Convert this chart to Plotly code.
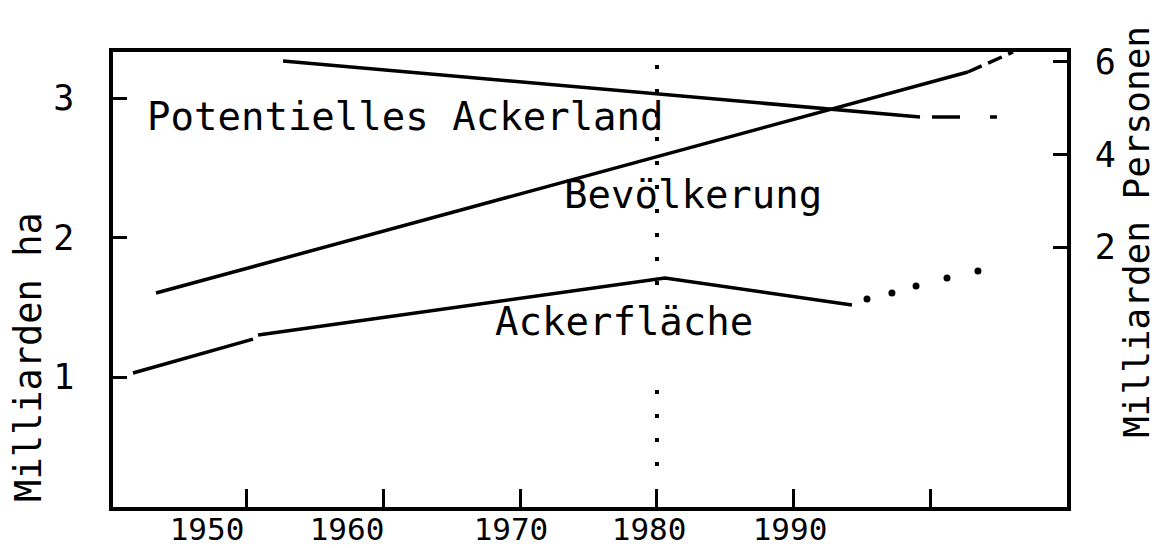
import plotly.graph_objects as go

FONT = "DejaVu Sans Mono"

# ---------------- data ----------------
tick_years = [1950, 1960, 1970, 1980, 1990, 2000]
label_years = [1947.15, 1957.37, 1969.34, 1979.42, 1989.71]
label_text = ["1950", "1960", "1970", "1980", "1990"]

# Potentielles Ackerland (Milliarden ha, left axis)
pot_years = [1952.70, 1979.49, 1992.99, 1999.20]
pot_vals = [3.265, 3.036, 2.921, 2.864]
pot_proj_years = [1999.20, 2004.82]
pot_proj_vals = [2.864, 2.864]

# Bevölkerung (Milliarden Personen, right axis)
bev_years = [1943.43, 1992.99, 2002.70]
bev_vals = [1.005, 5.005, 5.784]
bev_proj_years = [2002.70, 2005.99]
bev_proj_vals = [5.784, 6.216]

# Ackerfläche (Milliarden ha, left axis)
ack_years = [1941.75, 1950.51, None, 1950.88, 1980.58, 1994.23]
ack_vals = [1.029, 1.272, None, 1.301, 1.710, 1.516]
ack_proj_years = [1995.33, 1997.15, 1998.91, 2001.17, 2003.43]
ack_proj_vals = [1.559, 1.602, 1.652, 1.710, 1.760]

# vertical dotted reference line at 1980
ref_years = [1980, 1980, None, 1980, 1980]
ref_vals = [3.237, 1.552, None, 0.907, 0.333]

fig = go.Figure()
line = dict(color="black", width=3.5)

fig.add_trace(go.Scatter(x=ref_years, y=ref_vals, mode="lines",
                         line=dict(color="black", width=4, dash="4px,20px"),
                         xaxis="x", yaxis="y", hoverinfo="skip"))
fig.add_trace(go.Scatter(x=pot_years, y=pot_vals, mode="lines", line=line,
                         xaxis="x", yaxis="y"))
fig.add_trace(go.Scatter(x=pot_proj_years, y=pot_proj_vals, mode="lines",
                         line=dict(color="black", width=3.5, dash="0px,12px,28px,18px"),
                         xaxis="x", yaxis="y"))
fig.add_trace(go.Scatter(x=ack_years, y=ack_vals, mode="lines", line=line,
                         xaxis="x", yaxis="y"))
fig.add_trace(go.Scatter(x=ack_proj_years, y=ack_proj_vals, mode="markers",
                         marker=dict(color="black", size=7),
                         xaxis="x", yaxis="y"))
fig.add_trace(go.Scatter(x=bev_years, y=bev_vals, mode="lines", line=line,
                         xaxis="x", yaxis="y2"))
fig.add_trace(go.Scatter(x=bev_proj_years, y=bev_proj_vals, mode="lines",
                         line=dict(color="black", width=3.5, dash="15px,7px"),
                         xaxis="x", yaxis="y2"))
# invisible trace to anchor label axis
fig.add_trace(go.Scatter(x=[label_years[0]], y=[1], mode="markers",
                         marker=dict(opacity=0), xaxis="x2", yaxis="y",
                         hoverinfo="skip"))

xr = [1940.29, 2009.93]
ann_font = dict(family=FONT, size=39, color="black")
tick_font = dict(family=FONT, size=35, color="black")
fig.update_layout(
    width=1159, height=548,
    margin=dict(l=113, r=92, t=52, b=41, autoexpand=False),
    paper_bgcolor="white", plot_bgcolor="white",
    showlegend=False,
    font=dict(family=FONT, color="black"),
    xaxis=dict(range=xr, showline=True, linewidth=3.5, linecolor="black",
               mirror=True, ticks="inside", tickvals=tick_years, ticklen=18,
               tickwidth=3, tickcolor="black", showticklabels=False,
               showgrid=False, zeroline=False, automargin=False),
    xaxis2=dict(range=xr, overlaying="x", anchor="y", side="bottom",
                tickvals=label_years, ticktext=label_text, ticks="",
                showline=False, showgrid=False, zeroline=False,
                tickfont=dict(family=FONT, size=31, color="black"),
                ticklabelstandoff=1, automargin=False),
    yaxis=dict(range=[0.068, 3.33], tickvals=[1, 2, 3], ticks="inside",
               ticklen=14, tickwidth=3, tickcolor="black", showline=True,
               linewidth=3.5, linecolor="black", showgrid=False,
               zeroline=False, tickfont=tick_font,
               ticklabelstandoff=28, automargin=False),
    yaxis2=dict(range=[-3.62, 6.216], overlaying="y", side="right",
                tickvals=[2, 4, 6], ticks="inside", ticklen=14, tickwidth=3,
                tickcolor="black", showline=True, linewidth=3.5,
                linecolor="black", showgrid=False, zeroline=False,
                tickfont=tick_font, ticklabelstandoff=17, automargin=False),
    annotations=[
        dict(text="Potentielles Ackerland", x=1942.63, y=2.871, xref="x", yref="y",
             xanchor="left", yanchor="middle", showarrow=False, font=ann_font),
        dict(text="Bevölkerung", x=1973.07, y=2.305, xref="x", yref="y",
             xanchor="left", yanchor="middle", showarrow=False, font=ann_font),
        dict(text="Ackerfläche", x=1968.03, y=1.401, xref="x", yref="y",
             xanchor="left", yanchor="middle", showarrow=False, font=ann_font),
        dict(text="Milliarden ha", x=-0.088, y=0.33, xref="paper", yref="paper",
             xanchor="center", yanchor="middle", textangle=-90, showarrow=False,
             font=dict(family=FONT, size=37, color="black")),
        dict(text="Milliarden Personen", x=1.0730, y=0.604, xref="paper", yref="paper",
             xanchor="center", yanchor="middle", textangle=-90, showarrow=False,
             font=dict(family=FONT, size=36, color="black")),
    ],
)

fig.write_html("out.html",
               config={"displayModeBar": False},
               post_script="document.body.style.margin='0';"
                           "document.body.style.overflow='hidden';")
